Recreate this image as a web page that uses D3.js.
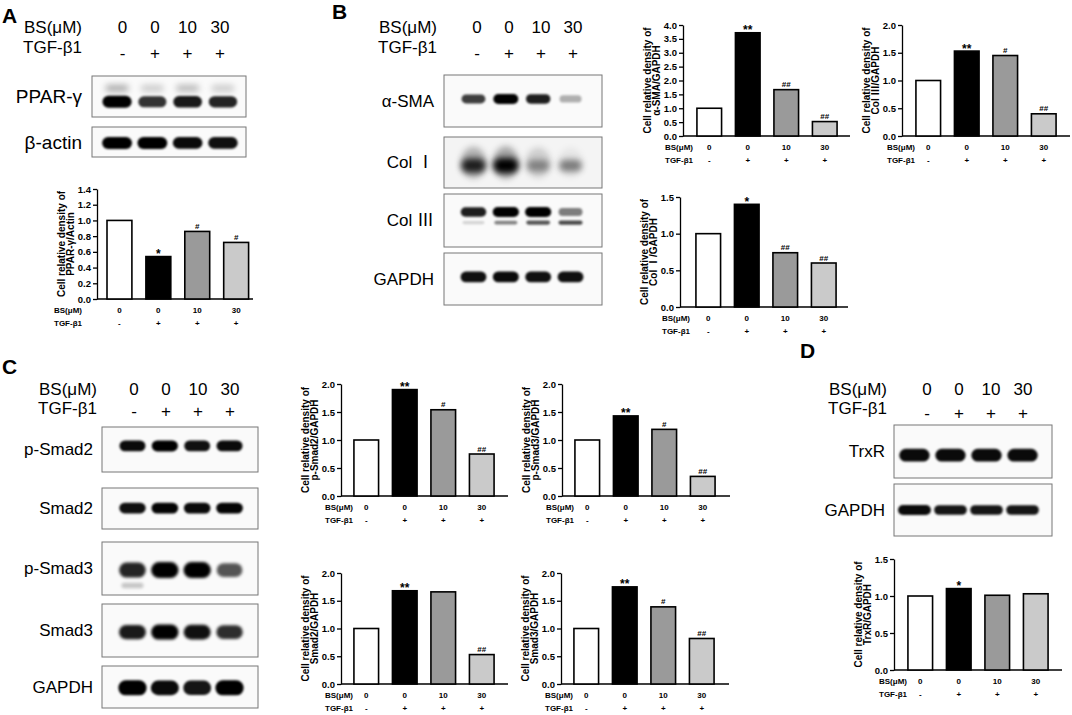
<!DOCTYPE html>
<html>
<head>
<meta charset="utf-8">
<script src="https://cdn.jsdelivr.net/npm/d3@7"></script>
<style>
  body { margin: 0; background: #fff; }
  text { font-family: Arial, "Liberation Sans", sans-serif; }
</style>
</head>
<body>
<div id="fig"></div>
<script>
// ---- data ----
const lanes = [0, 1, 2, 3];
const doses = ["0", "0", "10", "30"];
const tgf = ["-", "+", "+", "+"];

const pparValues = [1.0, 0.54, 0.86, 0.72];
const pparSig = ["", "*", "#", "#"];
const smaValues = [1.0, 3.72, 1.67, 0.52];
const smaSig = ["", "**", "##", "##"];
const col3Values = [1.0, 1.53, 1.45, 0.40];
const col3Sig = ["", "**", "#", "##"];
const col1Values = [1.0, 1.40, 0.74, 0.60];
const col1Sig = ["", "*", "##", "##"];
const pSmad2Values = [1.0, 1.90, 1.54, 0.75];
const pSmad2Sig = ["", "**", "#", "##"];
const pSmad3Values = [1.0, 1.43, 1.19, 0.35];
const pSmad3Sig = ["", "**", "#", "##"];
const smad2Values = [1.0, 1.68, 1.66, 0.53];
const smad2Sig = ["", "**", "", "##"];
const smad3Values = [1.0, 1.75, 1.39, 0.82];
const smad3Sig = ["", "**", "#", "##"];
const trxrValues = [1.0, 1.10, 1.01, 1.03];
const trxrSig = ["", "*", "", ""];

// blot band intensities (0..1)
const pparBand = [1.0, 0.75, 0.88, 0.82];
const pparUpper = [0.25, 0.14, 0.2, 0.14];
const actinBand = [1.0, 1.0, 0.95, 0.92];
const smaBand = [0.7, 1.0, 0.85, 0.22];
const col1Band = [0.8, 1.0, 0.3, 0.38];
const col1Smear = [0.2, 0.24, 0.1, 0.03];
const col3Band = [0.85, 1.0, 1.0, 0.42];
const col3Lower = [0.1, 0.4, 0.6, 0.65];
const gapdhBBand = [0.92, 0.95, 0.92, 0.92];
const pSmad2Band = [0.95, 1.0, 0.92, 0.95];
const smad2Band = [0.92, 0.98, 0.95, 0.98];
const pSmad3Band = [0.82, 1.0, 1.0, 0.6];
const pSmad3Lower = [0.14, 0, 0, 0];
const smad3Band = [0.88, 1.0, 0.92, 0.78];
const gapdhCBand = [1.0, 0.95, 0.9, 1.0];
const trxrBand = [0.95, 0.95, 0.95, 0.95];
const gapdhDBand = [0.95, 0.9, 0.9, 0.9];

const barFills = ["#ffffff", "#000000", "#9a9a9a", "#cacaca"];

// ---- svg ----
const svg = d3.select("#fig").append("svg")
  .attr("width", 1072).attr("height", 715);

const defs = svg.append("defs");
[["blurS", 0.9], ["blurM", 1.5], ["blurL", 3.2]].forEach(function (f) {
  defs.append("filter").attr("id", f[0])
    .attr("x", "-50%").attr("y", "-200%").attr("width", "200%").attr("height", "500%")
    .append("feGaussianBlur").attr("stdDeviation", f[1]);
});

let clipCount = 0;

// label text; roman numerals drawn with a CJK font like the original
function setLabel(sel, s) {
  const parts = s.split(/([ⅠⅢ])/);
  parts.forEach(function (p) {
    if (!p) return;
    const t = sel.append("tspan").text(p);
    if (p === "Ⅰ" || p === "Ⅲ") t.attr("font-family", "'Noto Sans CJK SC', 'DejaVu Serif', serif");
  });
}

// header row above blots
function drawHeader(h) {
  const g = svg.append("g").attr("font-size", 17);
  const px = d3.scalePoint().domain(lanes).range(h.points);
  g.append("text").attr("x", h.right).attr("y", h.bsY).attr("text-anchor", "end").text("BS(μM)");
  g.append("text").attr("x", h.right).attr("y", h.tgfY).attr("text-anchor", "end").text("TGF-β1");
  g.selectAll(".dose").data(doses).join("text")
    .attr("x", (d, i) => px(i)).attr("y", h.bsY).attr("text-anchor", "middle").text(d => d);
  g.selectAll(".sign").data(tgf).join("text")
    .attr("x", (d, i) => px(i)).attr("y", h.signY).attr("text-anchor", "middle").text(d => d);
}

function drawBlot(b) {
  const [x0, y0, x1, y1] = b.box;
  const id = "clip" + (clipCount++);
  defs.append("clipPath").attr("id", id)
    .append("rect").attr("x", x0).attr("y", y0).attr("width", x1 - x0).attr("height", y1 - y0);
  const g = svg.append("g");
  g.append("rect").attr("x", x0).attr("y", y0).attr("width", x1 - x0).attr("height", y1 - y0)
    .attr("fill", b.bg || "#fafafa");
  const inner = g.append("g").attr("clip-path", `url(#${id})`);
  const lx = d3.scaleBand().domain(lanes).range(b.lanes).padding(0.08);
  b.rows.forEach(function (r) {
    const hh = r.h;
    const bh = d => hh * (0.65 + 0.35 * d);
    const bw = d => lx.bandwidth() * r.w * (0.85 + 0.15 * d);
    inner.selectAll(null).data(r.data).join("rect")
      .attr("x", (d, i) => lx(i) + (lx.bandwidth() - bw(d)) / 2)
      .attr("width", bw)
      .attr("y", d => y0 + (y1 - y0) * r.frac - bh(d) / 2)
      .attr("height", bh)
      .attr("rx", d => bh(d) / 2)
      .attr("fill", "#050505")
      .attr("fill-opacity", d => Math.min(1, Math.pow(d, 0.8)))
      .attr("filter", `url(#${r.blur})`);
  });
  g.append("rect").attr("x", x0).attr("y", y0).attr("width", x1 - x0).attr("height", y1 - y0)
    .attr("fill", "none").attr("stroke", "#777").attr("stroke-width", 1);
  const t = g.append("text").attr("x", b.labelX).attr("y", (y0 + y1) / 2 + b.labelSize * 0.35)
    .attr("text-anchor", "end").attr("font-size", b.labelSize);
  setLabel(t, b.label);
}

function drawChart(c, values, sig, title2) {
  const g = svg.append("g");
  const y = d3.scaleLinear().domain([0, c.max]).range([c.yBot, c.yTop]);
  const x = d3.scaleBand().domain(lanes).range(c.band).paddingInner(0.36).paddingOuter(0.18);

  const yAxis = g.append("g").attr("transform", `translate(${c.axisX},0)`)
    .call(d3.axisLeft(y)
      .tickValues(d3.range(0, c.max + 1e-9, c.step))
      .tickFormat(d3.format(".1f"))
      .tickSize(4).tickSizeOuter(0).tickPadding(2));
  yAxis.selectAll("path, line").attr("stroke", "#000").attr("stroke-width", 1.3);
  yAxis.selectAll("text").attr("font-size", 9.5).attr("font-weight", "bold").attr("fill", "#000")
    .attr("font-family", "Arial, 'Liberation Sans', sans-serif");

  g.append("line").attr("x1", c.axisX).attr("x2", c.xEnd).attr("y1", c.yBot).attr("y2", c.yBot)
    .attr("stroke", "#000").attr("stroke-width", 1.3);

  g.selectAll(".bar").data(values).join("rect")
    .attr("x", (d, i) => x(i))
    .attr("width", x.bandwidth())
    .attr("y", d => y(d))
    .attr("height", d => c.yBot - y(d))
    .attr("fill", (d, i) => barFills[i])
    .attr("stroke", "#000").attr("stroke-width", 1.6);

  // significance marks: asterisks sit high in the em box, so they need a larger size and lower baseline
  g.selectAll(".sig").data(sig).join("text")
    .attr("x", (d, i) => x(i) + x.bandwidth() / 2)
    .attr("y", (d, i) => y(values[i]) + (d.startsWith("*") ? 1.5 : -2.5))
    .attr("text-anchor", "middle")
    .attr("font-size", d => d.startsWith("*") ? 12 : 8)
    .attr("font-weight", "bold")
    .text(d => d);

  // group labels under the axis
  const lab = g.append("g").attr("font-size", 8).attr("font-weight", "bold");
  lab.append("text").attr("x", c.bsX).attr("y", c.yBot + 14).text("BS(μM)");
  lab.append("text").attr("x", c.bsX).attr("y", c.yBot + 27).text("TGF-β1");
  lab.selectAll(".d").data(doses).join("text")
    .attr("x", (d, i) => x(i) + x.bandwidth() / 2).attr("y", c.yBot + 14)
    .attr("text-anchor", "middle").text(d => d);
  lab.selectAll(".t").data(tgf).join("text")
    .attr("x", (d, i) => x(i) + x.bandwidth() / 2).attr("y", c.yBot + 27)
    .attr("text-anchor", "middle").text(d => d);

  // y title
  const cy = (c.yTop + c.yBot) / 2;
  [["Cell relative density of", c.axisX - 32], [title2, c.axisX - 23.5]].forEach(function (t) {
    const tx = g.append("text").attr("transform", `translate(${t[1]},${cy}) rotate(-90)`)
      .attr("text-anchor", "middle").attr("font-size", 10).attr("font-weight", "bold");
    setLabel(tx, t[0]);
  });
}

// ---- panel letters ----
[["A", 2, 23], ["B", 332, 19], ["C", 2, 374], ["D", 800, 358]].forEach(function (p) {
  svg.append("text").attr("x", p[1]).attr("y", p[2])
    .attr("font-size", 21).attr("font-weight", "bold").text(p[0]);
});

// ---- panel A ----
drawHeader({ right: 82, bsY: 33, tgfY: 53, signY: 58.5, points: [122.5, 220] });
drawBlot({ label: "PPAR-γ", labelX: 82, labelSize: 19, box: [92, 76, 246, 117], lanes: [98, 242],
  rows: [
    { data: pparUpper, frac: 0.3, h: 9, w: 0.8, blur: "blurL" },
    { data: pparBand, frac: 0.63, h: 12, w: 0.9, blur: "blurS" }
  ] });
drawBlot({ label: "β-actin", labelX: 82, labelSize: 19, box: [92, 127, 246, 157], lanes: [98, 242],
  rows: [{ data: actinBand, frac: 0.53, h: 12, w: 0.92, blur: "blurS" }] });
drawChart({ axisX: 97, yTop: 189, yBot: 299, max: 1.4, step: 0.2, xEnd: 253, band: [100, 255.6], bsX: 54 },
  pparValues, pparSig, "PPAR-γ/Actin");

// ---- panel B ----
drawHeader({ right: 437, bsY: 33, tgfY: 53, signY: 58.5, points: [477, 573] });
drawBlot({ label: "α-SMA", labelX: 434, labelSize: 17, box: [444, 75, 602, 127], lanes: [456, 588],
  rows: [{ data: smaBand, frac: 0.46, h: 10, w: 0.84, blur: "blurS" }] });
drawBlot({ label: "Col Ⅰ", labelX: 434, labelSize: 17, box: [444, 137, 602, 188], lanes: [456, 588], bg: "#f4f4f4",
  rows: [
    { data: col1Smear, frac: 0.5, h: 44, w: 0.95, blur: "blurL" },
    { data: col1Band, frac: 0.56, h: 15, w: 0.85, blur: "blurL" }
  ] });
drawBlot({ label: "Col Ⅲ", labelX: 434, labelSize: 17, box: [444, 194, 602, 247], lanes: [456, 588],
  rows: [
    { data: col3Lower, frac: 0.54, h: 5, w: 0.85, blur: "blurS" },
    { data: col3Band, frac: 0.34, h: 10, w: 0.88, blur: "blurS" }
  ] });
drawBlot({ label: "GAPDH", labelX: 434, labelSize: 17, box: [444, 253, 602, 305], lanes: [456, 588],
  rows: [{ data: gapdhBBand, frac: 0.46, h: 11, w: 0.88, blur: "blurS" }] });
drawChart({ axisX: 683, yTop: 25, yBot: 136, max: 4.0, step: 0.5, xEnd: 850, band: [690, 844], bsX: 665 },
  smaValues, smaSig, "α-SMA/GAPDH");
drawChart({ axisX: 902, yTop: 25, yBot: 136, max: 2.0, step: 0.5, xEnd: 1070, band: [909, 1063], bsX: 887 },
  col3Values, col3Sig, "Col Ⅲ/GAPDH");
drawChart({ axisX: 680, yTop: 197, yBot: 307, max: 1.5, step: 0.5, xEnd: 848, band: [689, 843], bsX: 662 },
  col1Values, col1Sig, "Col Ⅰ/GAPDH");

// ---- panel C ----
drawHeader({ right: 97, bsY: 395, tgfY: 414, signY: 416.5, points: [134, 230] });
drawBlot({ label: "p-Smad2", labelX: 93, labelSize: 17, box: [102, 427, 258, 472], lanes: [115, 247],
  rows: [{ data: pSmad2Band, frac: 0.42, h: 11, w: 0.88, blur: "blurS" }] });
drawBlot({ label: "Smad2", labelX: 93, labelSize: 17, box: [102, 488, 258, 529], lanes: [115, 247],
  rows: [{ data: smad2Band, frac: 0.49, h: 11, w: 0.9, blur: "blurS" }] });
drawBlot({ label: "p-Smad3", labelX: 93, labelSize: 17, box: [102, 542, 258, 595], lanes: [115, 247],
  rows: [
    { data: pSmad3Lower, frac: 0.82, h: 8, w: 0.85, blur: "blurM" },
    { data: pSmad3Band, frac: 0.53, h: 16, w: 0.92, blur: "blurM" }
  ] });
drawBlot({ label: "Smad3", labelX: 93, labelSize: 17, box: [102, 604, 258, 657], lanes: [115, 247],
  rows: [{ data: smad3Band, frac: 0.53, h: 15, w: 0.92, blur: "blurM" }] });
drawBlot({ label: "GAPDH", labelX: 93, labelSize: 17, box: [102, 666, 258, 708], lanes: [115, 247],
  rows: [{ data: gapdhCBand, frac: 0.52, h: 15, w: 0.95, blur: "blurS" }] });
drawChart({ axisX: 341, yTop: 384, yBot: 496, max: 2.0, step: 0.5, xEnd: 508, band: [347, 501], bsX: 325 },
  pSmad2Values, pSmad2Sig, "p-Smad2/GAPDH");
drawChart({ axisX: 562, yTop: 384, yBot: 496, max: 2.0, step: 0.5, xEnd: 730, band: [568, 722], bsX: 546 },
  pSmad3Values, pSmad3Sig, "p-Smad3/GAPDH");
drawChart({ axisX: 341, yTop: 573, yBot: 684, max: 2.0, step: 0.5, xEnd: 508, band: [347, 501], bsX: 325 },
  smad2Values, smad2Sig, "Smad2/GAPDH");
drawChart({ axisX: 561, yTop: 573, yBot: 684, max: 2.0, step: 0.5, xEnd: 729, band: [567, 721], bsX: 545 },
  smad3Values, smad3Sig, "Smad3/GAPDH");

// ---- panel D ----
drawHeader({ right: 887, bsY: 395, tgfY: 414, signY: 419, points: [927, 1023] });
drawBlot({ label: "TrxR", labelX: 885, labelSize: 17, box: [894, 425, 1052, 478], lanes: [895, 1042],
  rows: [{ data: trxrBand, frac: 0.57, h: 13, w: 0.92, blur: "blurS" }] });
drawBlot({ label: "GAPDH", labelX: 885, labelSize: 17, box: [894, 484, 1052, 536], lanes: [895, 1042],
  rows: [{ data: gapdhDBand, frac: 0.5, h: 10, w: 1.0, blur: "blurS" }] });
drawChart({ axisX: 894, yTop: 559, yBot: 670, max: 1.5, step: 0.5, xEnd: 1062, band: [901, 1055], bsX: 879 },
  trxrValues, trxrSig, "TrxR/GAPDH");
</script>
</body>
</html>
